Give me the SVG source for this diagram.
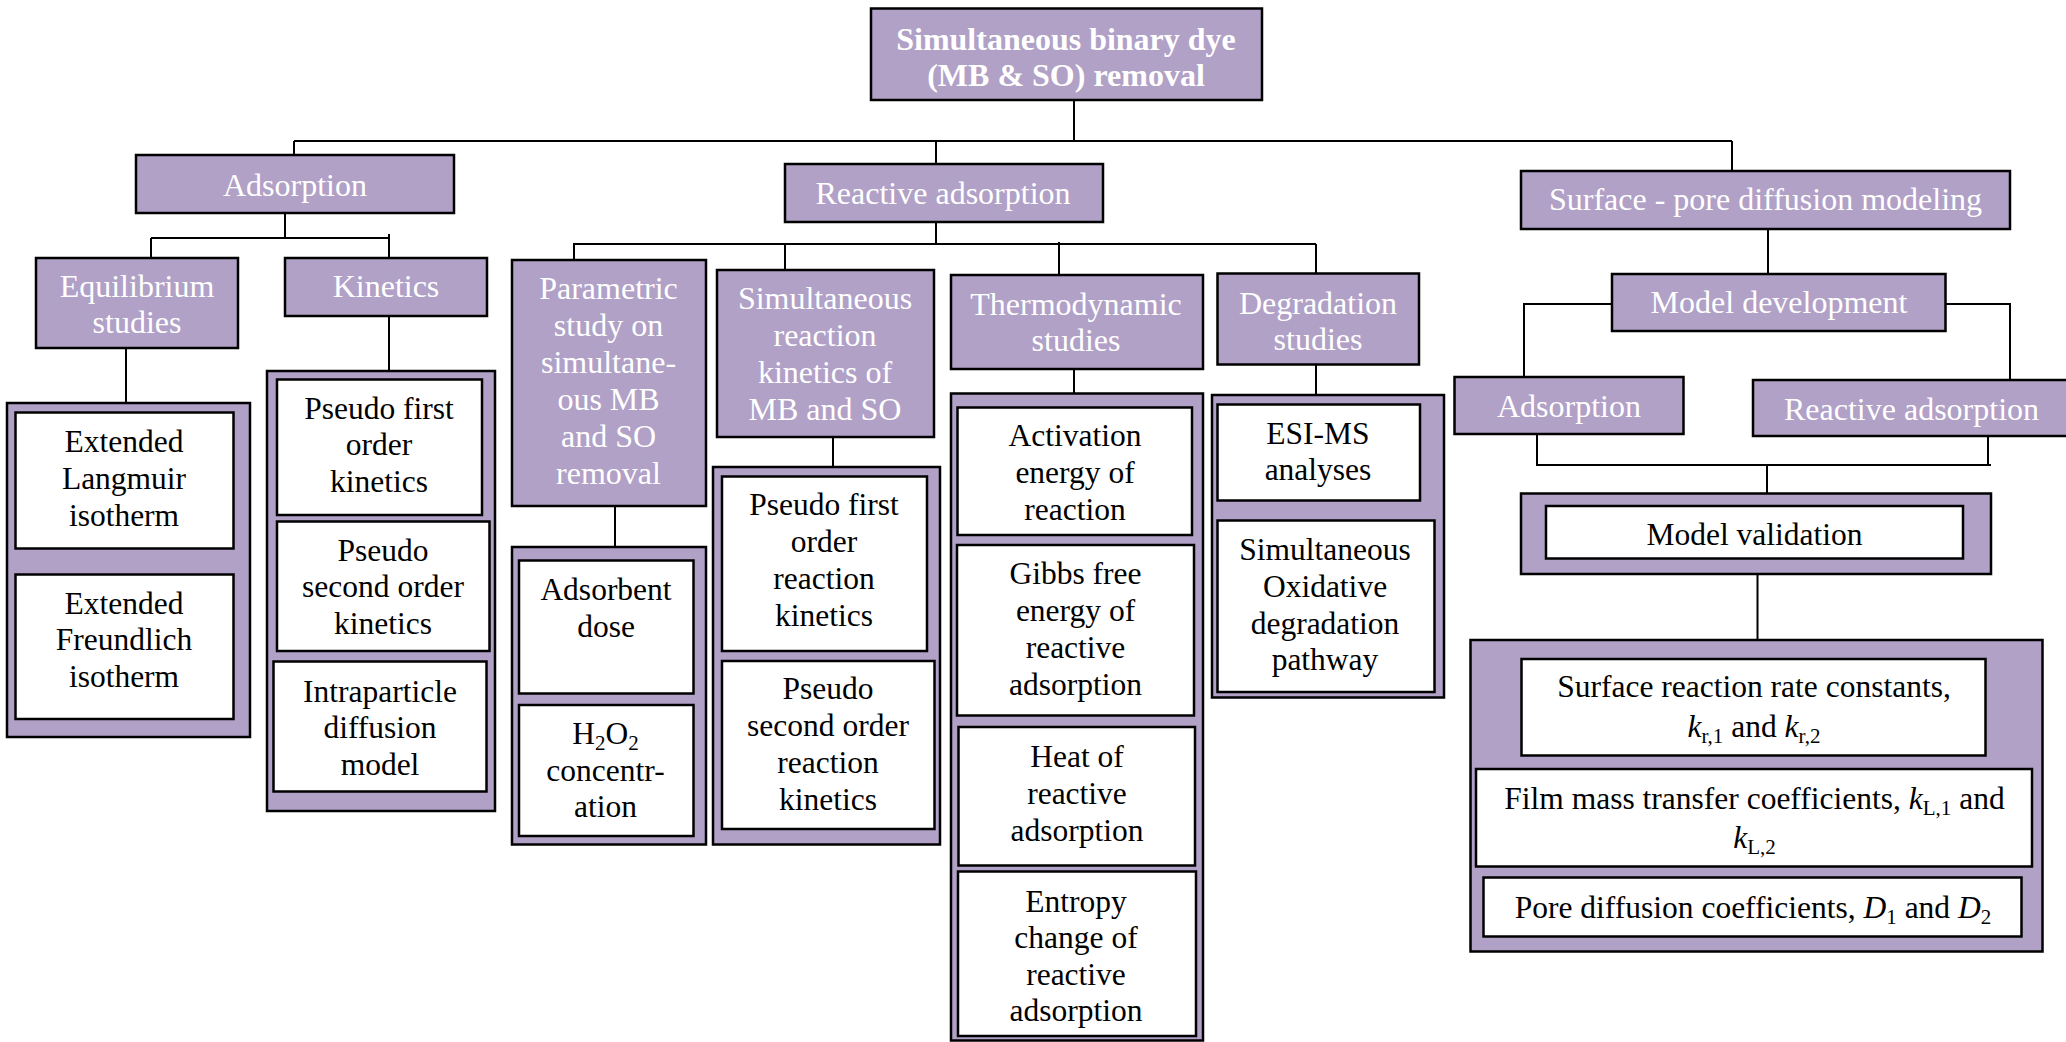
<svg xmlns="http://www.w3.org/2000/svg" width="2066" height="1042" viewBox="0 0 2066 1042">
<style>
.box{fill:#B1A1C7;stroke:#000;stroke-width:2.5}
.inner{fill:#fff;stroke:#000;stroke-width:2.5}
.w{fill:#fff;font-family:"Liberation Serif","Times New Roman",serif;font-size:32px;text-anchor:middle}
.rt{font-weight:bold}
.b{fill:#000;font-family:"Liberation Serif","Times New Roman",serif;font-size:31.5px;text-anchor:middle}
.conn path{stroke:#000;stroke-width:2;fill:none}
.i{font-style:italic}
.sub{font-size:21px}
</style>
<rect width="2066" height="1042" fill="#fff"/>
<g class="conn" id="connectors">
<path d="M1074,100 V141"/>
<path d="M294,141 H1732"/>
<path d="M294,141 V155"/>
<path d="M936,141 V164"/>
<path d="M1732,141 V171"/>
<path d="M285,213 V238"/>
<path d="M151,238 H389"/>
<path d="M151,238 V258"/>
<path d="M389,234 V258"/>
<path d="M126,348 V403"/>
<path d="M389,316 V371"/>
<path d="M936,222 V244"/>
<path d="M573,244 H1316"/>
<path d="M574,244 V260"/>
<path d="M785,244 V270"/>
<path d="M1059,242 V275"/>
<path d="M1316,244 V273"/>
<path d="M615,506 V547"/>
<path d="M833,437 V467"/>
<path d="M1074,364 V393"/>
<path d="M1316,364 V395"/>
<path d="M1768,229 V274"/>
<path d="M1612,304 H1524 V377"/>
<path d="M1945.5,304 H2010 V380"/>
<path d="M1537,434 V465 H1991"/>
<path d="M1988,434 V465"/>
<path d="M1767,465 V493.5"/>
<path d="M1757.5,574 V640"/>
</g>
<g id="root">
<rect class="box" x="871" y="8.5" width="391" height="91.5"/>
<text class="w rt" x="1066" y="49.5">Simultaneous binary dye</text>
<text class="w rt" x="1066" y="86">(MB &amp; SO) removal</text>
</g>
<g id="adsorption">
<rect class="box" x="136" y="155" width="318" height="58"/>
<text class="w" x="295" y="196">Adsorption</text>
</g>
<g id="equilibrium">
<rect class="box" x="36" y="258" width="202" height="90"/>
<text class="w" x="137" y="297">Equilibrium</text>
<text class="w" x="137" y="333">studies</text>
</g>
<g id="kinetics">
<rect class="box" x="285" y="258" width="202" height="58"/>
<text class="w" x="386" y="297">Kinetics</text>
</g>
<g id="equilibrium-models">
<rect class="box" x="7" y="403" width="243" height="334"/>
<rect class="inner" x="15.5" y="412.5" width="218" height="136"/>
<text class="b" x="124" y="451.5">Extended</text>
<text class="b" x="124" y="488.5">Langmuir</text>
<text class="b" x="124" y="525.5">isotherm</text>
<rect class="inner" x="15.5" y="574.5" width="218" height="144.5"/>
<text class="b" x="124" y="613.5">Extended</text>
<text class="b" x="124" y="650">Freundlich</text>
<text class="b" x="124" y="687">isotherm</text>
</g>
<g id="kinetic-models">
<rect class="box" x="267" y="371" width="228" height="440"/>
<rect class="inner" x="277" y="379.5" width="205" height="135.5"/>
<text class="b" x="379" y="418.5">Pseudo first</text>
<text class="b" x="379" y="455">order</text>
<text class="b" x="379" y="491.5">kinetics</text>
<rect class="inner" x="277" y="521.5" width="212.5" height="129.5"/>
<text class="b" x="383" y="560.5">Pseudo</text>
<text class="b" x="383" y="597">second order</text>
<text class="b" x="383" y="633.5">kinetics</text>
<rect class="inner" x="273.5" y="661.5" width="213" height="130"/>
<text class="b" x="380" y="701.5">Intraparticle</text>
<text class="b" x="380" y="738">diffusion</text>
<text class="b" x="380" y="774.5">model</text>
</g>
<g id="reactive-adsorption">
<rect class="box" x="785" y="164" width="318" height="58"/>
<text class="w" x="943" y="203.5">Reactive adsorption</text>
</g>
<g id="parametric">
<rect class="box" x="512" y="260" width="194" height="246"/>
<text class="w" x="608.5" y="299">Parametric</text>
<text class="w" x="608.5" y="336">study on</text>
<text class="w" x="608.5" y="372.5">simultane-</text>
<text class="w" x="608.5" y="409.5">ous MB</text>
<text class="w" x="608.5" y="446.5">and SO</text>
<text class="w" x="608.5" y="483.5">removal</text>
</g>
<g id="parametric-items">
<rect class="box" x="512" y="547" width="194" height="297.5"/>
<rect class="inner" x="519" y="560.5" width="174.5" height="133"/>
<text class="b" x="606" y="600">Adsorbent</text>
<text class="b" x="606" y="637">dose</text>
<rect class="inner" x="519" y="705" width="174.5" height="131"/>
<text class="b" x="605.5" y="744">H<tspan class="sub" dy="6">2</tspan><tspan dy="-6">O</tspan><tspan class="sub" dy="6">2</tspan></text>
<text class="b" x="605.5" y="781">concentr-</text>
<text class="b" x="605.5" y="817">ation</text>
</g>
<g id="simultaneous-reaction">
<rect class="box" x="717" y="270" width="217" height="167"/>
<text class="w" x="825" y="309">Simultaneous</text>
<text class="w" x="825" y="346">reaction</text>
<text class="w" x="825" y="383">kinetics of</text>
<text class="w" x="825" y="420">MB and SO</text>
</g>
<g id="reaction-kinetics-items">
<rect class="box" x="713" y="467" width="227" height="377.5"/>
<rect class="inner" x="722" y="476.5" width="205" height="174.5"/>
<text class="b" x="824" y="515">Pseudo first</text>
<text class="b" x="824" y="552">order</text>
<text class="b" x="824" y="589">reaction</text>
<text class="b" x="824" y="626">kinetics</text>
<rect class="inner" x="722" y="661" width="212.5" height="168"/>
<text class="b" x="828" y="699">Pseudo</text>
<text class="b" x="828" y="736">second order</text>
<text class="b" x="828" y="773">reaction</text>
<text class="b" x="828" y="810">kinetics</text>
</g>
<g id="thermodynamic">
<rect class="box" x="951" y="275" width="252" height="94"/>
<text class="w" x="1076" y="315">Thermodynamic</text>
<text class="w" x="1076" y="351">studies</text>
</g>
<g id="thermodynamic-items">
<rect class="box" x="951" y="393.5" width="252" height="647"/>
<rect class="inner" x="957.5" y="407.5" width="234.5" height="127.5"/>
<text class="b" x="1075" y="446">Activation</text>
<text class="b" x="1075" y="483">energy of</text>
<text class="b" x="1075" y="519.5">reaction</text>
<rect class="inner" x="957" y="545" width="237" height="170.5"/>
<text class="b" x="1075.5" y="583.5">Gibbs free</text>
<text class="b" x="1075.5" y="620.5">energy of</text>
<text class="b" x="1075.5" y="657.5">reactive</text>
<text class="b" x="1075.5" y="694.5">adsorption</text>
<rect class="inner" x="958.5" y="727" width="236.5" height="138.5"/>
<text class="b" x="1077" y="766.5">Heat of</text>
<text class="b" x="1077" y="803.5">reactive</text>
<text class="b" x="1077" y="840.5">adsorption</text>
<rect class="inner" x="958" y="871.5" width="238" height="164.5"/>
<text class="b" x="1076" y="911.5">Entropy</text>
<text class="b" x="1076" y="948">change of</text>
<text class="b" x="1076" y="984.5">reactive</text>
<text class="b" x="1076" y="1020.5">adsorption</text>
</g>
<g id="degradation">
<rect class="box" x="1217.5" y="273.5" width="201.5" height="91"/>
<text class="w" x="1318" y="313.5">Degradation</text>
<text class="w" x="1318" y="349.5">studies</text>
</g>
<g id="degradation-items">
<rect class="box" x="1212" y="395" width="232" height="302.5"/>
<rect class="inner" x="1217.5" y="404.5" width="202.5" height="96"/>
<text class="b" x="1318" y="444">ESI-MS</text>
<text class="b" x="1318" y="480">analyses</text>
<rect class="inner" x="1217.5" y="520.5" width="217" height="171.5"/>
<text class="b" x="1325" y="560">Simultaneous</text>
<text class="b" x="1325" y="597">Oxidative</text>
<text class="b" x="1325" y="633.5">degradation</text>
<text class="b" x="1325" y="670">pathway</text>
</g>
<g id="surface-pore">
<rect class="box" x="1521" y="171" width="489" height="58"/>
<text class="w" x="1765.5" y="210">Surface - pore diffusion modeling</text>
</g>
<g id="model-development">
<rect class="box" x="1612" y="274" width="333.5" height="57"/>
<text class="w" x="1779" y="313">Model development</text>
</g>
<g id="adsorption-model">
<rect class="box" x="1454.5" y="377" width="229" height="57"/>
<text class="w" x="1569" y="417">Adsorption</text>
</g>
<g id="reactive-adsorption-model">
<rect class="box" x="1753" y="380" width="317" height="56"/>
<text class="w" x="1911.5" y="419.5">Reactive adsorption</text>
</g>
<g id="model-validation">
<rect class="box" x="1521" y="493.5" width="470" height="80.5"/>
<rect class="inner" x="1546" y="506" width="417" height="52.5"/>
<text class="b" x="1754.5" y="545">Model validation</text>
</g>
<g id="parameters">
<rect class="box" x="1470.5" y="640" width="572" height="311.5"/>
<rect class="inner" x="1521.5" y="659" width="464" height="96.5"/>
<text class="b" x="1754" y="696.5">Surface reaction rate constants,</text>
<text class="b" x="1754" y="736.5"><tspan class="i">k</tspan><tspan class="sub" dy="6">r,1</tspan><tspan dy="-6"> and </tspan><tspan class="i">k</tspan><tspan class="sub" dy="6">r,2</tspan></text>
<rect class="inner" x="1476" y="769" width="556" height="97.5"/>
<text class="b" x="1754.5" y="808.5">Film mass transfer coefficients, <tspan class="i">k</tspan><tspan class="sub" dy="6">L,1</tspan><tspan dy="-6"> and</tspan></text>
<text class="b" x="1754.5" y="847.5"><tspan class="i">k</tspan><tspan class="sub" dy="6">L,2</tspan></text>
<rect class="inner" x="1483.5" y="877.5" width="538" height="59"/>
<text class="b" x="1753" y="918">Pore diffusion coefficients, <tspan class="i">D</tspan><tspan class="sub" dy="6">1</tspan><tspan dy="-6"> and </tspan><tspan class="i">D</tspan><tspan class="sub" dy="6">2</tspan></text>
</g>
</svg>
